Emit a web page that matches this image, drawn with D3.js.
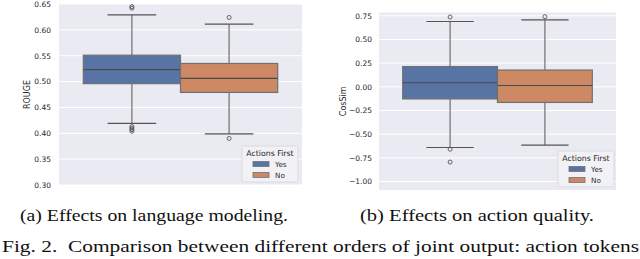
<!DOCTYPE html>
<html>
<head>
<meta charset="utf-8">
<script src="https://cdn.jsdelivr.net/npm/d3@7"></script>
<style>
  body { margin: 0; background: #fff; }
  svg { display: block; }
</style>
</head>
<body>
<svg id="chart" width="640" height="259"></svg>
<script>
// hue levels and colours
var hues = ["Yes", "No"];
var hueColors = ["#5874a4", "#cc8963"];

// (a) ROUGE
var rougeQ1 = [0.496, 0.479];
var rougeMedian = [0.523, 0.506];
var rougeQ3 = [0.551, 0.535];
var rougeLow = [0.419, 0.399];
var rougeHigh = [0.629, 0.611];
var rougeOutliers = [[0.642, 0.645, 0.413, 0.410, 0.407, 0.404], [0.624, 0.390]];
var rougeTicks = [0.30, 0.35, 0.40, 0.45, 0.50, 0.55, 0.60, 0.65];

// (b) CosSim
var cosQ1 = [-0.128, -0.165];
var cosMedian = [0.043, 0.014];
var cosQ3 = [0.214, 0.177];
var cosLow = [-0.641, -0.616];
var cosHigh = [0.690, 0.708];
var cosOutliers = [[0.737, -0.659, -0.795], [0.741]];
var cosTicks = [-1.00, -0.75, -0.50, -0.25, 0.00, 0.25, 0.50, 0.75];

var svg = d3.select("#chart");

function fmt(v) {
    return d3.format(".2f")(v).replace("-", "\u2212");
}

function drawPanel(opt) {
    var x = d3.scaleLinear().domain([-0.5, 0.5]).range([opt.left, opt.right]);
    var y = d3.scaleLinear().domain(opt.yDomain).range([opt.bottom, opt.top]);
    // dodge within the single category
    var band = d3.scaleBand().domain(hues).range([x(-0.4), x(0.4)]);

    var g = svg.append("g");

    g.append("rect")
        .attr("x", opt.left).attr("y", opt.top)
        .attr("width", opt.right - opt.left).attr("height", opt.bottom - opt.top)
        .attr("fill", "#eaeaf2");

    var axis = d3.axisLeft(y).tickValues(opt.ticks).tickSize(0).tickPadding(0).tickFormat(fmt);
    var ax = g.append("g")
        .attr("transform", "translate(" + opt.labelX + ",0)")
        .call(axis);
    ax.select(".domain").remove();
    ax.selectAll("text")
        .attr("font-family", "DejaVu Sans")
        .attr("font-size", 7.5)
        .attr("fill", "#262626");

    // grid
    g.selectAll(".grid")
        .data(opt.ticks.filter(function (t) { return y(t) >= opt.top - 0.5 && y(t) <= opt.bottom + 0.5; }))
        .enter().append("line")
        .attr("x1", opt.left).attr("x2", opt.right)
        .attr("y1", function (d) { return y(d); })
        .attr("y2", function (d) { return y(d); })
        .attr("stroke", "#fff").attr("stroke-width", 1);

    g.append("text")
        .attr("transform", "translate(" + opt.titleX + "," + ((opt.top + opt.bottom) / 2) + ") rotate(-90)")
        .attr("text-anchor", "middle")
        .attr("font-family", "DejaVu Sans")
        .attr("font-size", 8)
        .attr("fill", "#262626")
        .text(opt.yLabel);

    var edge = "#707070";
    hues.forEach(function (h, i) {
        var x0 = band(h), w = band.bandwidth(), cx = x0 + w / 2;
        // whiskers
        g.append("line")
            .attr("x1", cx).attr("x2", cx)
            .attr("y1", y(opt.q3[i])).attr("y2", y(opt.high[i]))
            .attr("stroke", edge).attr("stroke-width", 1.2);
        g.append("line")
            .attr("x1", cx).attr("x2", cx)
            .attr("y1", y(opt.q1[i])).attr("y2", y(opt.low[i]))
            .attr("stroke", edge).attr("stroke-width", 1.2);
        [opt.high[i], opt.low[i]].forEach(function (v) {
            g.append("line")
                .attr("x1", cx - w / 4).attr("x2", cx + w / 4)
                .attr("y1", y(v)).attr("y2", y(v))
                .attr("stroke", "#555").attr("stroke-width", 1.2);
        });
        g.append("rect")
            .attr("x", x0).attr("y", y(opt.q3[i]))
            .attr("width", w).attr("height", y(opt.q1[i]) - y(opt.q3[i]))
            .attr("fill", hueColors[i])
            .attr("stroke", edge).attr("stroke-width", 1.2);
        g.append("line")
            .attr("x1", x0).attr("x2", x0 + w)
            .attr("y1", y(opt.median[i])).attr("y2", y(opt.median[i]))
            .attr("stroke", "#4a4a4a").attr("stroke-width", 1.2);
        g.selectAll(null)
            .data(opt.outliers[i])
            .enter().append("circle")
            .attr("cx", cx).attr("cy", function (d) { return y(d); })
            .attr("r", 2)
            .attr("fill", "none").attr("stroke", "#555").attr("stroke-width", 0.9);
    });

    // legend
    var lg = g.append("g").attr("transform", "translate(" + opt.legX + "," + opt.legY + ")");
    lg.append("rect")
        .attr("width", 56).attr("height", 36).attr("rx", 1.5)
        .attr("fill", "#f2f2f6").attr("stroke", "#d6d6d6").attr("stroke-width", 0.8);
    lg.append("text")
        .attr("x", 28).attr("y", 10)
        .attr("text-anchor", "middle")
        .attr("font-family", "DejaVu Sans").attr("font-size", 7.8)
        .attr("fill", "#262626")
        .text("Actions First");
    hues.forEach(function (h, i) {
        lg.append("rect")
            .attr("x", 11).attr("y", 15.5 + i * 11)
            .attr("width", 16).attr("height", 5)
            .attr("fill", hueColors[i]).attr("stroke", edge).attr("stroke-width", 0.8);
        lg.append("text")
            .attr("x", 33).attr("y", 20.8 + i * 11)
            .attr("font-family", "DejaVu Sans").attr("font-size", 7.2)
            .attr("fill", "#262626")
            .text(h);
    });
}

drawPanel({
    left: 59, right: 302, top: 4, bottom: 185,
    yDomain: [0.30, 0.65], ticks: rougeTicks,
    labelX: 51, titleX: 29.5, yLabel: "ROUGE",
    q1: rougeQ1, median: rougeMedian, q3: rougeQ3,
    low: rougeLow, high: rougeHigh, outliers: rougeOutliers,
    legX: 242, legY: 146
});

drawPanel({
    left: 379, right: 616, top: 12.5, bottom: 190,
    yDomain: [-1.09, 0.785], ticks: cosTicks,
    labelX: 372, titleX: 346, yLabel: "CosSim",
    q1: cosQ1, median: cosMedian, q3: cosQ3,
    low: cosLow, high: cosHigh, outliers: cosOutliers,
    legX: 558, legY: 151
});

// captions (the scan is a little stretched sideways, so fit widths)
var cap = svg.append("g")
    .attr("font-family", "Liberation Serif, Times New Roman, serif")
    .attr("font-size", 17.5)
    .attr("fill", "#111");
cap.append("text").attr("x", 20).attr("y", 221)
    .attr("textLength", 268).attr("lengthAdjust", "spacingAndGlyphs")
    .text("(a) Effects on language modeling.");
cap.append("text").attr("x", 360).attr("y", 221)
    .attr("textLength", 234).attr("lengthAdjust", "spacingAndGlyphs")
    .text("(b) Effects on action quality.");
cap.append("text").attr("x", 2).attr("y", 252)
    .attr("textLength", 637).attr("lengthAdjust", "spacingAndGlyphs")
    .attr("xml:space", "preserve")
    .text("Fig. 2.  Comparison between different orders of joint output: action tokens");
</script>
</body>
</html>
